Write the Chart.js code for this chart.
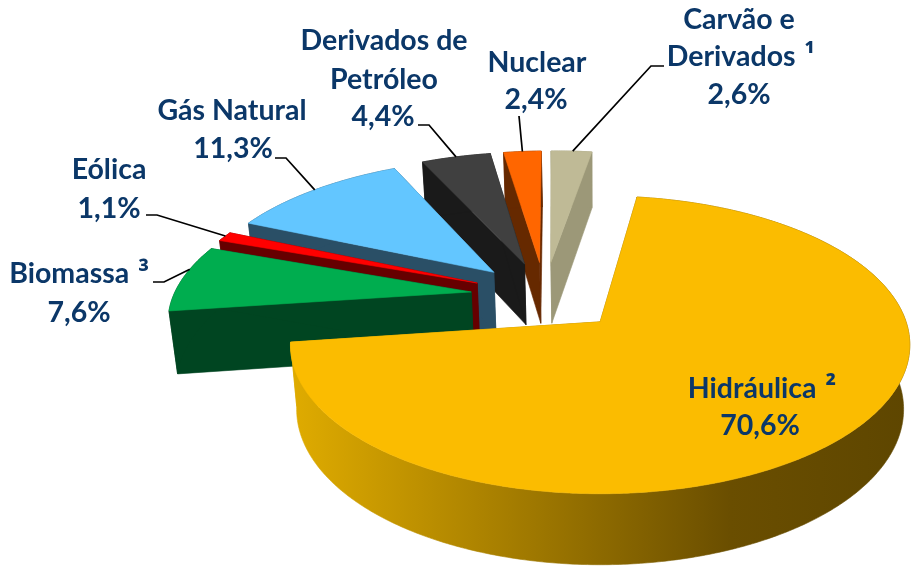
<!DOCTYPE html>
<html lang="pt">
<head>
<meta charset="utf-8">
<title>Matriz elétrica</title>
<script src="https://cdn.jsdelivr.net/npm/chart.js@4"></script>
<style>
  html, body { margin: 0; padding: 0; background: #fff; }
  canvas { display: block; }
</style>
</head>
<body>
<canvas id="grafico" width="915" height="571"></canvas>
<script>
// clockwise from the hydro slice
const categorias = ['Hidráulica', 'Biomassa', 'Eólica', 'Gás Natural', 'Derivados de Petróleo', 'Nuclear', 'Carvão e Derivados'];
const valores = [70.6, 7.6, 1.1, 11.3, 4.4, 2.4, 2.6];

const coresTopo = ['#FBBC00', '#00AD4F', '#FF0000', '#63C6FF', '#404040', '#FF6600', '#BFBA96'];
const coresLado = ['#9A7400', '#004521', '#660000', '#2A4F66', '#1A1A1A', '#662900', '#9C9878'];

// text of each label, one entry per line, with its centre
const rotulos = [
  [['Hidráulica', '²', 762, 389], ['70,6%', '', 760, 426]],
  [['Biomassa', '³', 79, 274], ['7,6%', '', 79, 313]],
  [['Eólica', '', 109, 170], ['1,1%', '', 109, 209]],
  [['Gás Natural', '', 232, 111], ['11,3%', '', 233, 149]],
  [['Derivados de', '', 384, 41], ['Petróleo', '', 384, 80], ['4,4%', '', 383, 117]],
  [['Nuclear', '', 537, 63], ['2,4%', '', 536, 100]],
  [['Carvão e', '', 739, 20], ['Derivados', '¹', 741, 57], ['2,6%', '', 739, 95]]
];

// leader lines: start, elbow, and where along the slice edge they land
const guias = [
  null,
  [[153, 282], [164, 282], 0.65],
  [[146, 215], [157, 215], 0.5],
  [[275, 158], [286, 158], 0.5],
  [[418, 125], [429, 125], 0.5],
  [[519, 116], [519, 116], 0.5],
  [[664, 66], [651, 66], 0.5]
];

// back to front
const ordem = [6, 5, 4, 3, 2, 1, 0];

// perspective of the ground plane, unit = pie radius
const VX = 600, VY = 322, ESC_X = 306, ESC_Y = 145.4, PERSP = 0.1544;
const CENTRO_U = -0.186, CENTRO_W = 0.188;
const EXPLODE = 0.25, EXPLODE_HIDRO = 0.264;

const FONTE = 'bold 28.5px Lato';
const FONTE_SUP = 'bold 28px "Noto Sans"';

function projeta(u, w) {
  const s = 1 / (1 + PERSP * w);
  return [VX + ESC_X * u * s, VY - ESC_Y * w * s];
}

// the same point on the underside of the slice
function base(p) {
  return [VX + (p[0] - VX) * 0.98, p[1] + 56 + (p[1] - 153) * 0.044];
}

function pontosFatia(arco, i) {
  const meio = (arco.startAngle + arco.endAngle) / 2;
  const ex = i === 0 ? EXPLODE_HIDRO : EXPLODE;
  const cu = CENTRO_U + ex * Math.cos(meio);
  const cw = CENTRO_W - ex * Math.sin(meio);
  const borda = [];
  const passos = Math.max(2, Math.ceil((arco.endAngle - arco.startAngle) / 0.01));
  for (let k = 0; k <= passos; k++) {
    const a = arco.startAngle + (arco.endAngle - arco.startAngle) * k / passos;
    borda.push(projeta(cu + Math.cos(a), cw - Math.sin(a)));
  }
  return { apice: projeta(cu, cw), borda: borda };
}

function preenche(ctx, pts, cor) {
  ctx.beginPath();
  pts.forEach((p, n) => n ? ctx.lineTo(p[0], p[1]) : ctx.moveTo(p[0], p[1]));
  ctx.closePath();
  ctx.fillStyle = cor;
  ctx.strokeStyle = cor;
  ctx.lineWidth = 0.6;
  ctx.fill();
  ctx.stroke();
}

// a label line, with the footnote mark in its own font
function escreve(ctx, texto, sup, x, y) {
  ctx.font = FONTE;
  const larg = ctx.measureText(texto).width;
  const extra = sup ? 9 : 0;
  ctx.font = FONTE_SUP;
  const largSup = sup ? ctx.measureText(sup).width : 0;
  const ini = x - (larg + extra + largSup) / 2;
  ctx.textAlign = 'left';
  ctx.font = FONTE;
  ctx.fillText(texto, ini, y);
  if (sup) {
    ctx.font = FONTE_SUP;
    ctx.fillText(sup, ini + larg + extra, y);
  }
}

const pizza3d = {
  id: 'pizza3d',
  beforeDatasetDraw(chart, args) {
    const ctx = chart.ctx;
    const arcos = args.meta.data;
    const gradiente = ctx.createLinearGradient(290, 0, 910, 0);
    gradiente.addColorStop(0, '#E0AC00');
    gradiente.addColorStop(0.71, '#6A4E00');
    gradiente.addColorStop(1, '#5E4600');

    ordem.forEach(i => {
      const f = pontosFatia(arcos[i], i);
      const ini = f.borda[0];
      const fim = f.borda[f.borda.length - 1];
      const ladoCor = i === 0 ? gradiente : coresLado[i];
      // radial walls, then the rim, then the top face
      preenche(ctx, [f.apice, ini, base(ini), base(f.apice)], ladoCor);
      preenche(ctx, [f.apice, fim, base(fim), base(f.apice)], ladoCor);
      preenche(ctx, f.borda.concat(f.borda.slice().reverse().map(base)), ladoCor);
      preenche(ctx, [f.apice].concat(f.borda), coresTopo[i]);
    });
    return false;
  },
  afterDraw(chart) {
    const ctx = chart.ctx;
    const arcos = chart.getDatasetMeta(0).data;
    ctx.save();
    ctx.strokeStyle = '#000';
    ctx.lineWidth = 1.7;
    guias.forEach((g, i) => {
      if (!g) return;
      const f = pontosFatia(arcos[i], i);
      const p = f.borda[Math.round((f.borda.length - 1) * g[2])];
      ctx.beginPath();
      ctx.moveTo(g[0][0], g[0][1]);
      ctx.lineTo(g[1][0], g[1][1]);
      ctx.lineTo(p[0], p[1]);
      ctx.stroke();
    });
    ctx.fillStyle = '#0B3768';
    ctx.textBaseline = 'middle';
    rotulos.forEach(linhas => linhas.forEach(l => escreve(ctx, l[0], l[1], l[2], l[3])));
    ctx.restore();
  }
};

new Chart(document.getElementById('grafico').getContext('2d'), {
  type: 'pie',
  data: {
    labels: categorias,
    datasets: [{ data: valores, backgroundColor: coresTopo, borderWidth: 0 }]
  },
  options: {
    responsive: false,
    animation: false,
    rotation: 8,
    plugins: { legend: { display: false }, tooltip: { enabled: false } }
  },
  plugins: [pizza3d]
});
</script>
</body>
</html>
